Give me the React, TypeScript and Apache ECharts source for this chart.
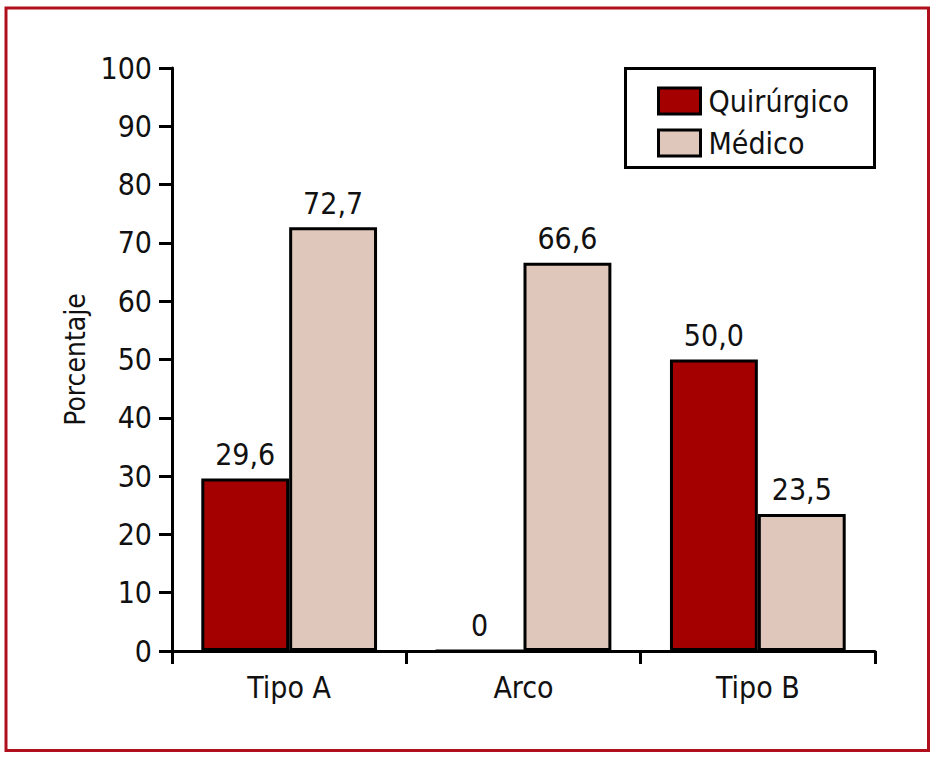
import React, { useEffect, useRef } from "react";
import * as echarts from "echarts";

const categories = ["Tipo A", "Arco", "Tipo B"];
const quirurgico = [29.6, 0, 50.0];
const medico = [72.7, 66.6, 23.5];
const seriesNames = ["Quirúrgico", "Médico"];
const yAxisName = "Porcentaje";

const FONT = "'DejaVu Sans Condensed', 'Liberation Sans Narrow', sans-serif";
const FS = 30;

const fmt = (v: number) => (v === 0 ? "0" : v.toFixed(1).replace(".", ","));

export default function App() {
  const ref = useRef<HTMLDivElement>(null);
  useEffect(() => {
    if (!ref.current) return;
    const chart = echarts.init(ref.current, undefined, { renderer: "svg" });
    const label = {
      show: true,
      position: "top" as const,
      distance: 9,
      fontFamily: FONT,
      fontSize: FS,
      color: "#111",
      formatter: (p: any) => fmt(p.value),
    };
    chart.setOption({
      animation: false,
      backgroundColor: "#fff",
      textStyle: { fontFamily: FONT },
      grid: { left: 172, right: 61, top: 68, bottom: 111, containLabel: false },
      legend: {
        orient: "vertical",
        left: 657,
        top: 86,
        padding: 0,
        itemWidth: 42,
        itemHeight: 26,
        itemGap: 12,
        icon: "rect",
        itemStyle: { borderColor: "#000", borderWidth: 3 },
        textStyle: { fontFamily: FONT, fontSize: FS, lineHeight: 30, color: "#111", padding: [0, 0, 0, 3] },
        data: seriesNames,
      },
      xAxis: {
        type: "category",
        data: categories,
        axisLine: { lineStyle: { color: "#000", width: 3 } },
        axisTick: { show: true, length: 13, lineStyle: { color: "#000", width: 3 } },
        axisLabel: { fontFamily: FONT, fontSize: FS, color: "#111", margin: 21 },
      },
      yAxis: {
        type: "value",
        min: 0,
        max: 100,
        interval: 10,
        name: yAxisName,
        nameLocation: "middle",
        nameGap: 78,
        nameTextStyle: { fontFamily: FONT, fontSize: 28, color: "#111" },
        axisLine: { show: true, lineStyle: { color: "#000", width: 3 } },
        axisTick: { show: true, length: 13, lineStyle: { color: "#000", width: 3 } },
        axisLabel: { fontFamily: FONT, fontSize: FS, color: "#111", margin: 20 },
        splitLine: { show: false },
      },
      graphic: [
        {
          type: "rect",
          shape: { x: 6, y: 8, width: 922.5, height: 742.5 },
          style: { fill: "none", stroke: "#b0101e", lineWidth: 3 },
          silent: true,
        },
        {
          type: "rect",
          shape: { x: 625.5, y: 68.5, width: 249, height: 99 },
          style: { fill: "none", stroke: "#000", lineWidth: 3 },
          silent: true,
        },
      ],
      series: [
        {
          name: seriesNames[0],
          type: "bar",
          data: quirurgico,
          barGap: "0%",
          barCategoryGap: "25%",
          itemStyle: { color: "#a50000", borderColor: "#000", borderWidth: 3 },
          label,
        },
        {
          name: seriesNames[1],
          type: "bar",
          data: medico,
          barGap: "0%",
          barCategoryGap: "25%",
          itemStyle: { color: "#e0c7bb", borderColor: "#000", borderWidth: 3 },
          label,
        },
      ],
    });
    return () => chart.dispose();
  }, []);
  return (
    <div
      ref={ref}
      style={{ position: "fixed", left: 0, top: 0, width: 936, height: 762 }}
    />
  );
}
